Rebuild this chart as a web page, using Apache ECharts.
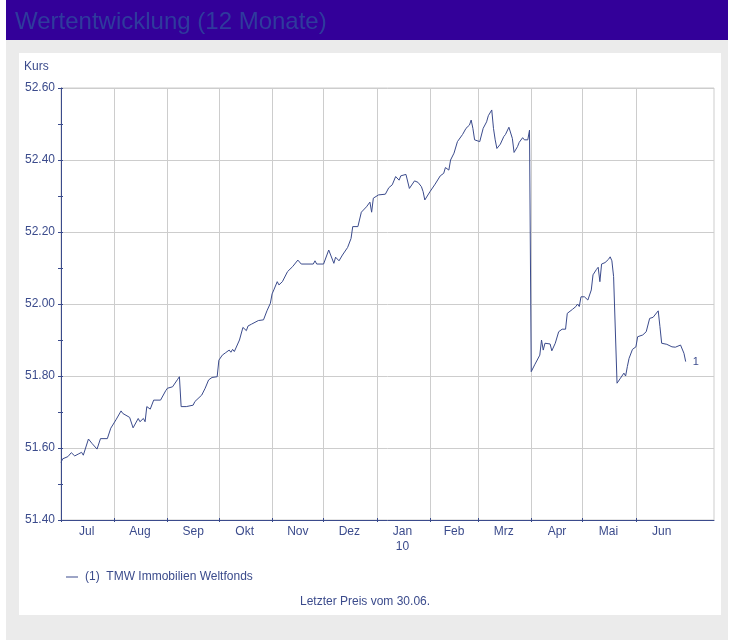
<!DOCTYPE html>
<html>
<head>
<meta charset="utf-8">
<title>Wertentwicklung (12 Monate)</title>
<script src="https://cdn.jsdelivr.net/npm/echarts@6/dist/echarts.min.js"></script>
<style>
  html, body { margin: 0; padding: 0; background: #ffffff; }
  #chart { width: 734px; height: 640px; }
</style>
</head>
<body>
<div id="chart"></div>
<script>
// Fund price history, one value per trading day shown
const priceDates = [
  '2009-07-01','2009-07-02','2009-07-05','2009-07-07','2009-07-09','2009-07-11','2009-07-12','2009-07-13','2009-07-14','2009-07-17',
  '2009-07-19','2009-07-22','2009-07-24','2009-07-28','2009-07-30','2009-07-31','2009-08-02','2009-08-05','2009-08-06','2009-08-10',
  '2009-08-12','2009-08-15','2009-08-16','2009-08-18','2009-08-19','2009-08-20','2009-08-22','2009-08-24','2009-08-28','2009-08-31',
  '2009-09-01','2009-09-04','2009-09-05','2009-09-07','2009-09-08','2009-09-09','2009-09-10','2009-09-12','2009-09-16','2009-09-17',
  '2009-09-21','2009-09-23','2009-09-25','2009-09-27','2009-09-30','2009-10-01','2009-10-03','2009-10-05','2009-10-07','2009-10-08',
  '2009-10-09','2009-10-10','2009-10-13','2009-10-15','2009-10-17','2009-10-18','2009-10-19','2009-10-20','2009-10-24','2009-10-27',
  '2009-10-29','2009-10-30','2009-10-31','2009-11-01','2009-11-02','2009-11-04','2009-11-05','2009-11-07','2009-11-10','2009-11-13',
  '2009-11-16','2009-11-18','2009-11-25','2009-11-26','2009-11-27','2009-12-01','2009-12-04','2009-12-05','2009-12-07','2009-12-08',
  '2009-12-09','2009-12-10','2009-12-12','2009-12-15','2009-12-17','2009-12-18','2009-12-21','2009-12-23','2009-12-26','2009-12-28',
  '2009-12-29','2009-12-30','2010-01-02','2010-01-06','2010-01-08','2010-01-10','2010-01-12','2010-01-14','2010-01-15','2010-01-18',
  '2010-01-20','2010-01-21','2010-01-23','2010-01-25','2010-01-27','2010-01-28','2010-01-29','2010-02-01','2010-02-04','2010-02-07',
  '2010-02-09','2010-02-10','2010-02-12','2010-02-13','2010-02-15','2010-02-17','2010-02-18','2010-02-20','2010-02-22','2010-02-24',
  '2010-02-25','2010-02-26','2010-02-27','2010-02-28','2010-03-02','2010-03-04','2010-03-06','2010-03-07','2010-03-09','2010-03-10',
  '2010-03-11','2010-03-12','2010-03-14','2010-03-16','2010-03-17','2010-03-19','2010-03-21','2010-03-22','2010-03-24','2010-03-25',
  '2010-03-27','2010-03-28','2010-03-29','2010-03-30','2010-03-31','2010-04-01','2010-04-03','2010-04-06','2010-04-07','2010-04-08',
  '2010-04-09','2010-04-12','2010-04-13','2010-04-15','2010-04-17','2010-04-19','2010-04-21','2010-04-22','2010-04-25','2010-04-27',
  '2010-04-28','2010-04-29','2010-04-30','2010-05-02','2010-05-04','2010-05-06','2010-05-07','2010-05-09','2010-05-10','2010-05-11',
  '2010-05-12','2010-05-14','2010-05-16','2010-05-17','2010-05-18','2010-05-19','2010-05-21','2010-05-23','2010-05-25','2010-05-26',
  '2010-05-27','2010-05-28','2010-05-30','2010-06-01','2010-06-02','2010-06-05','2010-06-07','2010-06-09','2010-06-11','2010-06-14',
  '2010-06-15','2010-06-16','2010-06-19','2010-06-22','2010-06-23','2010-06-24','2010-06-27','2010-06-28','2010-06-29','2010-06-30'
];

const priceValues = [
  51.560, 51.570, 51.576, 51.587, 51.578, 51.583, 51.580, 51.588, 51.580, 51.625,
  51.613, 51.597, 51.626, 51.626, 51.655, 51.657, 51.678, 51.703, 51.696, 51.685,
  51.656, 51.682, 51.673, 51.682, 51.673, 51.715, 51.708, 51.733, 51.733, 51.759,
  51.766, 51.770, 51.775, 51.791, 51.798, 51.715, 51.719, 51.715, 51.719, 51.729,
  51.747, 51.766, 51.789, 51.796, 51.798, 51.844, 51.858, 51.865, 51.872, 51.866,
  51.874, 51.868, 51.900, 51.935, 51.926, 51.939, 51.935, 51.944, 51.954, 51.956,
  51.981, 51.985, 52.002, 52.028, 52.039, 52.062, 52.053, 52.062, 52.090, 52.104,
  52.122, 52.111, 52.111, 52.120, 52.111, 52.111, 52.150, 52.145, 52.113, 52.130,
  52.125, 52.120, 52.136, 52.157, 52.182, 52.215, 52.215, 52.255, 52.270, 52.283,
  52.255, 52.294, 52.303, 52.305, 52.323, 52.331, 52.354, 52.344, 52.356, 52.360,
  52.321, 52.326, 52.342, 52.338, 52.326, 52.312, 52.289, 52.312, 52.333, 52.356,
  52.363, 52.379, 52.372, 52.400, 52.419, 52.451, 52.453, 52.471, 52.488, 52.497,
  52.511, 52.488, 52.456, 52.458, 52.451, 52.488, 52.506, 52.523, 52.539, 52.488,
  52.456, 52.432, 52.444, 52.465, 52.471, 52.491, 52.460, 52.421, 52.437, 52.449,
  52.462, 52.456, 52.460, 52.456, 52.483, 51.812, 51.831, 51.858, 51.900, 51.872,
  51.891, 51.889, 51.870, 51.891, 51.923, 51.930, 51.930, 51.974, 51.985, 51.993,
  52.000, 51.993, 52.020, 52.020, 52.011, 52.039, 52.081, 52.096, 52.102, 52.062,
  52.111, 52.115, 52.124, 52.131, 52.120, 52.076, 51.780, 51.794, 51.808, 51.800,
  51.826, 51.849, 51.874, 51.881, 51.909, 51.914, 51.923, 51.960, 51.963, 51.981,
  51.937, 51.891, 51.888, 51.881, 51.886, 51.880, 51.886, 51.889, 51.863, 51.840
];

// Month boundaries (ticks and vertical grid lines)
const monthStarts = [
  '2009-07-01','2009-08-01','2009-09-01','2009-10-01','2009-11-01','2009-12-01',
  '2010-01-01','2010-02-01','2010-03-01','2010-04-01','2010-05-01','2010-06-01'
];
// Month labels, placed in the middle of each month
const monthLabelDates = [
  '2009-07-16','2009-08-16','2009-09-16','2009-10-16','2009-11-16','2009-12-16',
  '2010-01-16','2010-02-15','2010-03-16','2010-04-16','2010-05-16','2010-06-16'
];
const monthLabels = ['Jul','Aug','Sep','Okt','Nov','Dez','Jan\n10','Feb','Mrz','Apr','Mai','Jun'];

const seriesName = '(1)  TMW Immobilien Weltfonds';
const footerText = 'Letzter Preis vom 30.06.';

const ink = '#3b4b8c';
const gridGray = '#cdcdcd';
const fontFamily = '"Liberation Sans", Arial, sans-serif';

// dates become millisecond timestamps on a plain value axis
const toMs = (s) => Date.UTC(+s.slice(0, 4), +s.slice(5, 7) - 1, +s.slice(8, 10));
const labelLookup = {};
monthLabelDates.forEach((d, i) => { labelLookup[toMs(d)] = monthLabels[i]; });

const xMin = toMs('2009-07-01');
const xMax = toMs('2010-07-16') + 12 * 3600 * 1000;

const chart = echarts.init(document.getElementById('chart'), null, { renderer: 'canvas' });

chart.setOption({
  animation: false,
  textStyle: { fontFamily: fontFamily },
  graphic: [
    { type: 'rect', z: -10, silent: true, shape: { x: 6, y: 40, width: 722, height: 600 }, style: { fill: '#ebebeb' } },
    { type: 'rect', z: -10, silent: true, shape: { x: 6, y: 0, width: 722, height: 40 }, style: { fill: '#330099' } },
    { type: 'rect', z: -9, silent: true, shape: { x: 19, y: 53, width: 702, height: 562 }, style: { fill: '#ffffff' } }
  ],
  title: [
    {
      text: 'Wertentwicklung (12 Monate)',
      left: 10, top: 5,
      textStyle: { color: '#2f3b9d', fontSize: 24, fontWeight: 'normal', fontFamily: fontFamily }
    },
    {
      text: 'Kurs',
      left: 19, top: 56,
      textStyle: { color: ink, fontSize: 12, fontWeight: 'normal', fontFamily: fontFamily }
    },
    {
      text: footerText,
      left: 295, top: 591,
      textStyle: { color: ink, fontSize: 12, fontWeight: 'normal', fontFamily: fontFamily }
    }
  ],
  legend: {
    left: 66, top: 571, padding: 0,
    icon: 'rect',
    itemWidth: 12, itemHeight: 1,
    textStyle: { color: ink, fontSize: 12, fontFamily: fontFamily, padding: [0, 0, 0, 2] },
    data: [{ name: seriesName, icon: 'rect' }]
  },
  grid: {
    left: 61, top: 88, right: 20, bottom: 120,
    show: true, borderColor: gridGray, borderWidth: 1,
    containLabel: false
  },
  xAxis: [
    {
      type: 'value',
      min: xMin, max: xMax,
      axisLine: { show: true, lineStyle: { color: ink, width: 1 } },
      axisTick: {
        show: true, inside: false, length: 2,
        lineStyle: { color: ink },
        customValues: monthStarts.map(toMs)
      },
      splitLine: { show: true, lineStyle: { color: gridGray, width: 1 } },
      axisLabel: {
        show: true,
        color: ink, fontSize: 12, margin: 4, lineHeight: 15,
        customValues: monthLabelDates.map(toMs),
        formatter: (value) => labelLookup[value] || ''
      }
    },
    {
      // inner half of the crossing month ticks
      type: 'value', position: 'bottom', offset: 0,
      min: xMin, max: xMax,
      axisLine: { show: false },
      axisTick: { show: true, inside: true, length: 2, lineStyle: { color: ink }, customValues: monthStarts.map(toMs) },
      splitLine: { show: false },
      axisLabel: { show: false }
    }
  ],
  yAxis: [
    {
      type: 'value',
      min: 51.4, max: 52.6, interval: 0.2,
      axisLine: { show: true, lineStyle: { color: ink, width: 1 } },
      axisTick: { show: true, length: 3, lineStyle: { color: ink } },
      minorTick: { show: true, splitNumber: 2, length: 3, lineStyle: { color: ink } },
      splitLine: { show: true, lineStyle: { color: gridGray, width: 1 } },
      axisLabel: {
        color: ink, fontSize: 12, margin: 6,
        formatter: (v) => v.toFixed(2)
      }
    },
    {
      // inner half of the crossing value ticks
      type: 'value', position: 'left', offset: 0,
      min: 51.4, max: 52.6, interval: 0.2,
      axisLine: { show: false },
      axisTick: { show: true, inside: true, length: 2, lineStyle: { color: ink } },
      minorTick: { show: true, splitNumber: 2, length: 2, lineStyle: { color: ink } },
      splitLine: { show: false },
      axisLabel: { show: false }
    }
  ],
  series: [
    {
      name: seriesName,
      type: 'line',
      data: priceDates.map((d, i) => [toMs(d), priceValues[i]]),
      showSymbol: false,
      symbol: 'none',
      lineStyle: { color: ink, width: 1 },
      itemStyle: { color: ink },
      endLabel: {
        show: true,
        formatter: '1',
        color: ink, fontSize: 11, distance: 7
      }
    }
  ]
});
</script>
</body>
</html>
